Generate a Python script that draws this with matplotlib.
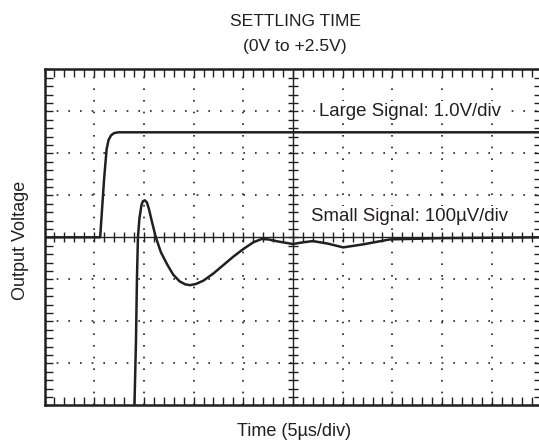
import numpy as np
import matplotlib.pyplot as plt

plt.rcParams['font.family'] = ['Liberation Sans', 'DejaVu Sans']

ink = '#231f20'

# Large signal trace (divisions: x 0..10, y -4..4)
large_t = [0.0, 1.12, 1.20, 1.25, 1.29, 1.34, 1.40, 1.48, 1.56, 10.0]
large_v = [0.0, 0.0, 1.40, 2.10, 2.32, 2.43, 2.48, 2.50, 2.50, 2.50]

# Small signal trace
small_t = [1.78, 1.81, 1.84, 1.86, 1.88, 1.91, 1.95, 1.98, 2.02, 2.06, 2.10, 2.16, 2.24,
           2.34, 2.47, 2.59, 2.72, 2.83, 2.93, 3.05, 3.20, 3.40, 3.60, 3.80, 4.00, 4.20,
           4.37, 4.50, 4.70, 5.00, 5.20, 5.40, 5.70, 6.01, 6.40, 6.95, 8.00, 9.00, 10.0]
small_v = [-4.5, -4.0, -2.5, -1.0, 0.0, 0.45, 0.76, 0.86, 0.88, 0.83, 0.68, 0.38, 0.0,
           -0.35, -0.65, -0.89, -1.05, -1.12, -1.14, -1.11, -1.03, -0.86, -0.66, -0.46, -0.28, -0.12,
           -0.04, -0.05, -0.10, -0.16, -0.12, -0.09, -0.15, -0.24, -0.17, -0.05, -0.02, -0.01, 0.0]

fig = plt.figure(figsize=(5.39, 4.41), dpi=100)
ax = fig.add_axes([44.5 / 539, 1 - 405.3 / 441, 497 / 539, 336 / 441])
ax.set_xlim(0, 10)
ax.set_ylim(-4, 4)

# dotted graticule
for gx in range(1, 10):
    if gx != 5:
        ax.axvline(gx, color=ink, lw=1.2, ls=(0, (1, 6)))
for gy in range(-3, 4):
    if gy != 0:
        ax.axhline(gy, color=ink, lw=1.2, ls=(0, (1, 6)))

# center cross with ticks
ax.axhline(0, color=ink, lw=1.0)
ax.axvline(5, color=ink, lw=1.0)
minor_x = np.arange(0, 10.01, 0.2)
minor_y = np.arange(-4, 4.01, 0.2)
ax.plot(minor_x, np.zeros_like(minor_x), ls='none', marker='|', ms=7, mew=1.0, color=ink)
ax.plot(np.full_like(minor_y, 5), minor_y, ls='none', marker='_', ms=7, mew=1.0, color=ink)

# traces
ax.plot(large_t, large_v, color=ink, lw=1.8, solid_joinstyle='round')
ax.plot(small_t, small_v, color=ink, lw=1.8, solid_joinstyle='round')

ax.text(7.35, 3.0, 'Large Signal: 1.0V/div', ha='center', va='center', fontsize=13.4,
        color=ink, bbox=dict(facecolor='white', edgecolor='none', pad=1))
ax.text(7.35, 0.5, 'Small Signal: 100\u00b5V/div', ha='center', va='center', fontsize=13.4,
        color=ink, bbox=dict(facecolor='white', edgecolor='none', pad=1))

ax.set_xticks(range(0, 11))
ax.set_yticks(range(-4, 5))
ax.set_xticks(minor_x, minor=True)
ax.set_yticks(minor_y, minor=True)
ax.tick_params(which='both', direction='in', top=True, right=True, length=6,
               width=1.0, color=ink, labelbottom=False, labelleft=False)
for s in ax.spines.values():
    s.set_linewidth(1.8)
    s.set_color(ink)

fig.text(295 / 539, 1 - 21.5 / 441, 'SETTLING TIME', ha='center', va='center', fontsize=12.6, color=ink)
fig.text(295 / 539, 1 - 47 / 441, '(0V to +2.5V)', ha='center', va='center', fontsize=12.6, color=ink)
fig.text(294 / 539, 1 - 432 / 441, 'Time (5\u00b5s/div)', ha='center', va='center', fontsize=13, color=ink)
fig.text(21 / 539, 1 - 240 / 441, 'Output Voltage', ha='center', va='center', rotation=90,
         fontsize=13, color=ink)

fig.savefig('out.png', dpi=100)
